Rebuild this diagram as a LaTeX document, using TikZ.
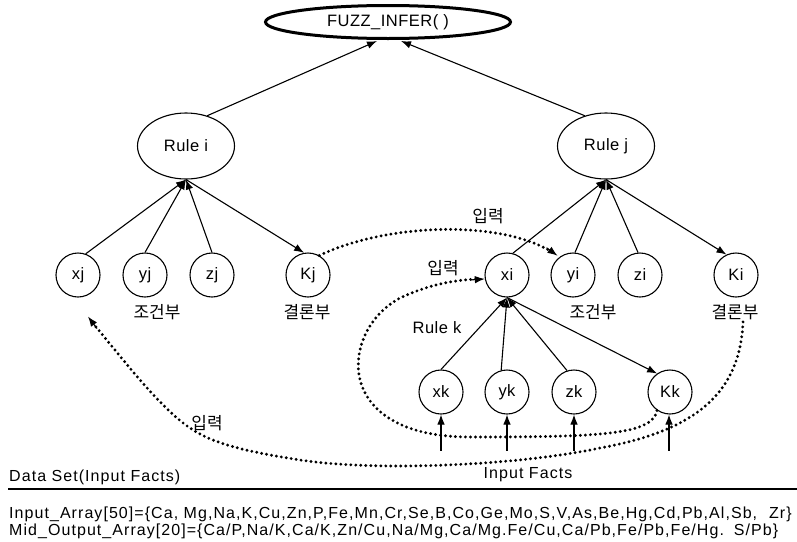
\documentclass[tikz,border=0pt]{standalone}
\usepackage{fontspec}
\setmainfont{Liberation Sans}
\newfontfamily\kr{Noto Sans CJK KR}
\newfontfamily\wide[LetterSpace=6.6]{Liberation Sans}
\newfontfamily\semiwide[LetterSpace=3]{Liberation Sans}
\usetikzlibrary{shapes.geometric,arrows.meta,calc}

\tikzset{
  mainbox/.style={ellipse, draw, line width=3pt, minimum width=245pt, minimum height=33pt,
    inner sep=0pt, font=\semiwide\fontsize{16.5}{18}\selectfont},
  rulebox/.style={ellipse, draw, line width=1.1pt, minimum width=97pt, minimum height=66pt,
    inner sep=0pt, font=\semiwide\fontsize{16.5}{18}\selectfont},
  var/.style={circle, draw, line width=1.1pt, minimum size=44pt, inner sep=0pt,
    font=\semiwide\fontsize{16.5}{18}\selectfont},
  link/.style={line width=1.1pt},
  tip/.style={-{Latex[length=10pt,width=7.5pt]}},
  dotline/.style={line width=3.2pt, line cap=round, dash pattern=on 0pt off 5pt},
  krlabel/.style={inner sep=0pt, font=\kr\fontsize{17}{18}\selectfont},
  txt/.style={inner sep=0pt, font=\semiwide\fontsize{16.5}{18}\selectfont},
  arraytxt/.style={inner sep=0pt, anchor=west, font=\wide\fontsize{16}{17}\selectfont}
}

\begin{document}
\begin{tikzpicture}[x=1pt,y=-1pt]
\useasboundingbox (0,0) rectangle (797,541);

% inference root
\node[mainbox] (fz) at (388,22) {FUZZ\_INFER( )};

% rules
\node[rulebox] (ri) at (186,146) {Rule i};
\node[rulebox] (rj) at (606,146) {Rule j};

% variables of rule i
\node[var] (xj) at (78,275) {xj};
\node[var] (yj) at (145,275) {yj};
\node[var] (zj) at (212,275) {zj};
\node[var] (Kj) at (308,275) {Kj};

% variables of rule j
\node[var] (xi) at (507,275) {xi};
\node[var] (yi) at (573,275) {yi};
\node[var] (zi) at (640,275) {zi};
\node[var] (Ki) at (736,275) {Ki};

% variables of rule k
\node[var] (xk) at (441,392) {xk};
\node[var] (yk) at (507,392) {yk};
\node[var] (zk) at (574,392) {zk};
\node[var] (Kk) at (670,392) {Kk};

% part labels
\node[krlabel] (cj) at (157,312) {조건부};
\node[krlabel] (kj) at (307,312) {결론부};
\node[krlabel] (ci) at (593,312) {조건부};
\node[krlabel] (ki) at (735,312) {결론부};
\node[krlabel] (in1) at (488,216) {입력};
\node[krlabel] (in2) at (443,268) {입력};
\node[krlabel] (in3) at (207,423) {입력};
\node[txt] (rk) at (437,328) {Rule k};

% rules to the inference root
\draw[link,tip] (ri.55) -- ($(fz.south)+(-11,1)$);
\draw[link,tip] (rj.125) -- ($(fz.south)+(13,1)$);

% rule i
\draw[link,tip] (xj.70) -- (ri.south);
\draw[link,tip] (yj.90) -- (ri.south);
\draw[link,tip] (zj.90) -- (ri.south);
\draw[link,tip] (ri.south) -- (Kj.100);

% rule j
\draw[link,tip] (xi.75) -- (rj.south);
\draw[link,tip] (yi.85) -- (rj.south);
\draw[link,tip] (zi.95) -- (rj.south);
\draw[link,tip] (rj.south) -- (Ki.115);

% rule k
\draw[link,tip] (xk.90) -- (xi.south);
\draw[link,tip] (yk.105) -- (xi.south);
\draw[link,tip] (zk.108) -- (xi.south);
\draw[link,tip] (xi.south) -- (Kk.125);

% input facts
\coordinate (fx) at ($(xk.south)+(0,36)$);
\coordinate (fy) at ($(yk.south)+(0,36)$);
\coordinate (fzk) at ($(zk.south)+(0,36)$);
\coordinate (fK) at ($(Kk.south)+(-1,36)$);
\draw[link,tip] (fx) -- (xk.south);
\draw[link,tip] (fy) -- (yk.south);
\draw[link,tip] (fzk) -- (zk.south);
\draw[link,tip] (fK) -- ($(Kk.south)+(-1,0)$);

% dotted feedback paths
\draw[dotline] (Kj.60) .. controls (390,222) and (505,220) .. ($(yi.130)+(-4,-4)$);
\draw[link,tip] ($(yi.130)+(-12,-10)$) -- ($(yi.130)+(-1,-2)$);

\draw[dotline] (Kk.235) .. controls (652,435) and (600,437) .. (470,437)
  .. controls (330,437) and (340,330) .. (400,298)
  .. controls (430,284) and (455,280) .. ($(xi.190)+(-6,0)$);
\draw[link,tip] ($(xi.190)+(-14,1)$) -- (xi.190);

\coordinate (xjin) at ($(xj.south)+(10,19)$);
\draw[dotline] ($(ki.south)+(8,2)$) .. controls (740,390) and (700,430) .. (600,448)
  .. controls (520,465) and (380,472) .. (300,460)
  .. controls (250,452) and (215,445) .. (190,428)
  .. controls (160,408) and (122,358) .. ($(xjin)+(6,8)$);
\draw[link,tip] ($(xjin)+(9,12)$) -- (xjin);

% data set
\node[arraytxt] (ds) at (9,477) {Data Set(Input Facts)};
\node[arraytxt, anchor=center] (ifacts) at (528,475) {Input Facts};
\coordinate (ruleL) at (8,489);
\coordinate (ruleR) at (797,489);
\draw[line width=2.6pt] (ruleL) -- (ruleR);

\node[arraytxt] (ia) at (9,514) {Input\_Array[50]=\{Ca, Mg,Na,K,Cu,Zn,P,Fe,Mn,Cr,Se,B,Co,Ge,Mo,S,V,As,Be,Hg,Cd,Pb,Al,Sb,\hspace{12pt}Zr\}};
\node[arraytxt] (ma) at (9,531) {Mid\_Output\_Array[20]=\{Ca/P,Na/K,Ca/K,Zn/Cu,Na/Mg,Ca/Mg.Fe/Cu,Ca/Pb,Fe/Pb,Fe/Hg.\hspace{10pt}S/Pb\}};
\end{tikzpicture}
\end{document}
